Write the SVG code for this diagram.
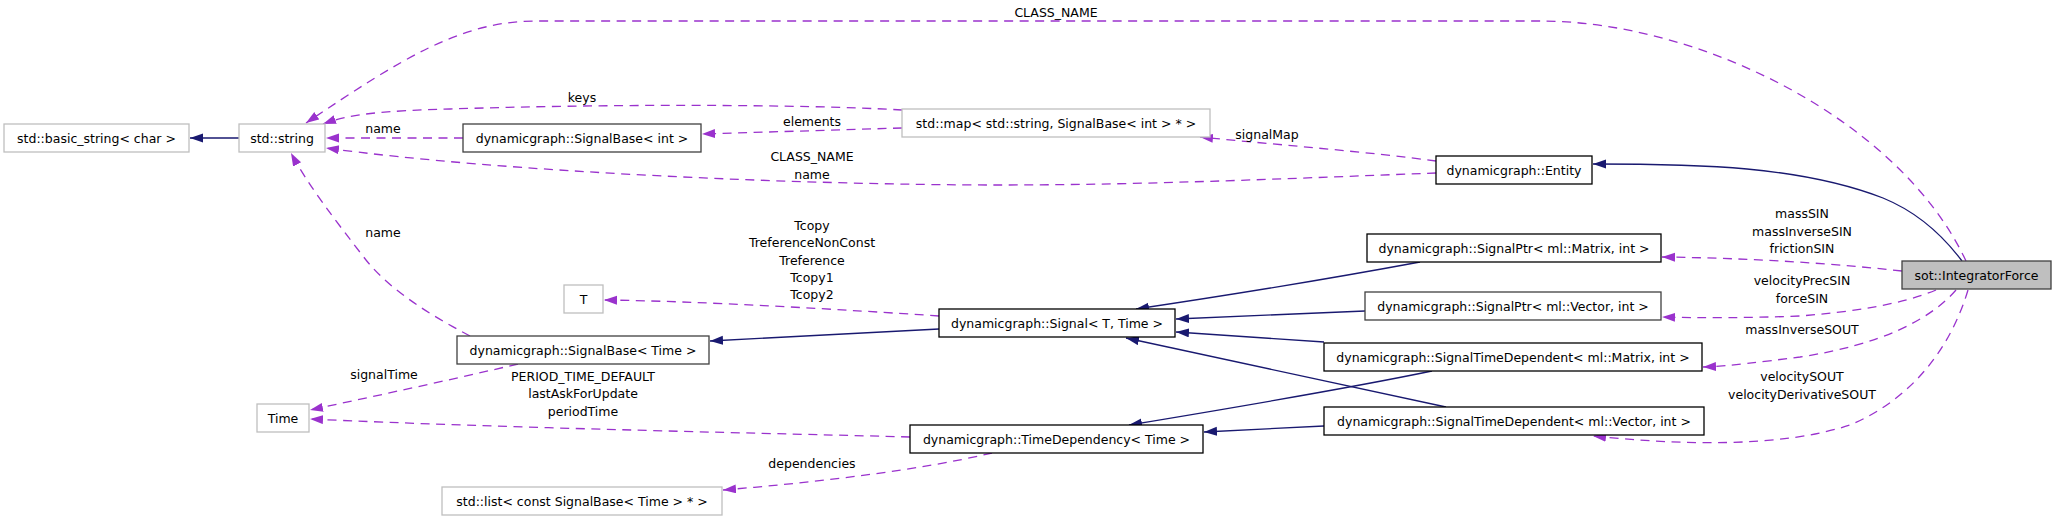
<svg xmlns="http://www.w3.org/2000/svg" width="2056" height="519" viewBox="0 0 2056 519">
<style>
.n rect{fill:#fff;stroke:#000;stroke-width:1.3}
.n rect.g{stroke:#bfbfbf}
.n rect.d{stroke:#404040}
text{font-family:"DejaVu Sans","Liberation Sans",sans-serif;font-size:12.5px;fill:#000;text-anchor:middle}
.inh{fill:none;stroke:#191970;stroke-width:1.3;marker-end:url(#an)}
.use{fill:none;stroke:#9a32cd;stroke-width:1.3;stroke-dasharray:9,6.5;marker-end:url(#ap)}
</style>
<defs>
<marker id="an" markerUnits="userSpaceOnUse" markerWidth="14" markerHeight="10" refX="13" refY="4.5" orient="auto"><path d="M0,0 L13,4.5 L0,9 z" fill="#191970"/></marker>
<marker id="ap" markerUnits="userSpaceOnUse" markerWidth="14" markerHeight="10" refX="13" refY="4.5" orient="auto"><path d="M0,0 L13,4.5 L0,9 z" fill="#9a32cd"/></marker>
</defs>
<rect width="2056" height="519" fill="#fff"/>
<g id="edges">
<path class="inh" d="M239,138 L190,138"/>
<path class="inh" d="M1962,261 C1935,225 1905,207 1883,198 C1800,166 1700,164 1593,164"/>
<path class="use" d="M1966,261 C1900,120 1700,21 1540,21 L536,21 C460,21 400,60 306,123"/>
<text x="1056" y="17">CLASS_NAME</text>
<path class="use" d="M902,110 C800,104 600,104 450,109 C380,111 350,114 323,124"/>
<text x="582" y="102">keys</text>
<path class="use" d="M902,128 L702,134"/>
<text x="812" y="126">elements</text>
<path class="use" d="M463,138 L326,138"/>
<text x="383" y="133">name</text>
<path class="use" d="M1436,173 C1300,178 1150,185 1000,185 C800,185 500,172 326,148"/>
<text x="812" y="161">CLASS_NAME</text>
<text x="812" y="179">name</text>
<path class="use" d="M1436,161 C1370,152 1280,145 1200,137"/>
<text x="1267" y="139">signalMap</text>
<path class="use" d="M470,336 C430,315 390,290 366,260 C335,220 308,185 291,153"/>
<text x="383" y="237">name</text>
<path class="inh" d="M939,329 L710,341"/>
<path class="use" d="M939,316 C850,310 700,301 604,300"/>
<text x="812" y="230">Tcopy</text>
<text x="812" y="247">TreferenceNonConst</text>
<text x="812" y="265">Treference</text>
<text x="812" y="282">Tcopy1</text>
<text x="812" y="299">Tcopy2</text>
<path class="inh" d="M1420,262 C1350,275 1250,292 1136,309"/>
<path class="inh" d="M1365,311 L1176,319"/>
<path class="inh" d="M1324,342 L1176,332"/>
<path class="inh" d="M1432,371 C1350,388 1250,405 1129,425"/>
<path class="inh" d="M1446,407 L1126,338"/>
<path class="inh" d="M1324,426 L1204,432"/>
<path class="use" d="M910,437 C800,434 500,428 310,419"/>
<text x="583" y="381">PERIOD_TIME_DEFAULT</text>
<text x="583" y="398">lastAskForUpdate</text>
<text x="583" y="416">periodTime</text>
<path class="use" d="M518,364 C450,380 380,395 310,410"/>
<text x="384" y="379">signalTime</text>
<path class="use" d="M992,453 C920,470 820,482 723,490"/>
<text x="812" y="468">dependencies</text>
<path class="use" d="M1902,271 C1820,262 1740,258 1662,257"/>
<text x="1802" y="218">massSIN</text>
<text x="1802" y="236">massInverseSIN</text>
<text x="1802" y="253">frictionSIN</text>
<path class="use" d="M1936,290 C1900,305 1850,312 1800,316 C1750,318 1700,318 1662,317"/>
<text x="1802" y="285">velocityPrecSIN</text>
<text x="1802" y="303">forceSIN</text>
<path class="use" d="M1956,290 C1930,320 1880,345 1800,357 C1760,362 1730,366 1703,367"/>
<text x="1802" y="334">massInverseSOUT</text>
<path class="use" d="M1968,290 C1950,350 1910,400 1850,425 C1780,448 1680,445 1593,436"/>
<text x="1802" y="381">velocitySOUT</text>
<text x="1802" y="399">velocityDerivativeSOUT</text>
</g>
<g id="n_basic_string" class="n"><rect class="g" x="4" y="124" width="185" height="28"/><text x="96.5" y="142.5">std::basic_string&lt; char &gt;</text></g>
<g id="n_string" class="n"><rect class="g" x="239" y="124" width="86" height="28"/><text x="282" y="142.5">std::string</text></g>
<g id="n_signalbase_int" class="n"><rect class="d" x="463" y="124" width="238" height="28"/><text x="582" y="142.5">dynamicgraph::SignalBase&lt; int &gt;</text></g>
<g id="n_map" class="n"><rect class="g" x="902" y="109" width="308" height="28"/><text x="1056" y="127.5">std::map&lt; std::string, SignalBase&lt; int &gt; * &gt;</text></g>
<g id="n_entity" class="n"><rect x="1436" y="156" width="156" height="28"/><text x="1514" y="174.5">dynamicgraph::Entity</text></g>
<g id="n_integratorforce" class="n"><rect class="d" x="1902" y="261" width="149" height="28" style="fill:#bfbfbf"/><text x="1976.5" y="279.5">sot::IntegratorForce</text></g>
<g id="n_signalptr_matrix" class="n"><rect x="1367" y="234" width="294" height="28"/><text x="1514" y="252.5">dynamicgraph::SignalPtr&lt; ml::Matrix, int &gt;</text></g>
<g id="n_signalptr_vector" class="n"><rect class="d" x="1365" y="292" width="296" height="28"/><text x="1513" y="310.5">dynamicgraph::SignalPtr&lt; ml::Vector, int &gt;</text></g>
<g id="n_std_matrix" class="n"><rect x="1324" y="343" width="378" height="28"/><text x="1513" y="361.5">dynamicgraph::SignalTimeDependent&lt; ml::Matrix, int &gt;</text></g>
<g id="n_std_vector" class="n"><rect x="1324" y="407" width="380" height="28"/><text x="1514" y="425.5">dynamicgraph::SignalTimeDependent&lt; ml::Vector, int &gt;</text></g>
<g id="n_signal" class="n"><rect x="939" y="309" width="236" height="28"/><text x="1057" y="327.5">dynamicgraph::Signal&lt; T, Time &gt;</text></g>
<g id="n_timedependency" class="n"><rect x="910" y="425" width="293" height="28"/><text x="1056.5" y="443.5">dynamicgraph::TimeDependency&lt; Time &gt;</text></g>
<g id="n_list" class="n"><rect class="g" x="442" y="487" width="280" height="28"/><text x="582" y="505.5">std::list&lt; const SignalBase&lt; Time &gt; * &gt;</text></g>
<g id="n_time" class="n"><rect class="g" x="257" y="404" width="52" height="28"/><text x="283" y="422.5">Time</text></g>
<g id="n_t" class="n"><rect class="g" x="564" y="285" width="39" height="28"/><text x="583.5" y="303.5">T</text></g>
<g id="n_signalbase_time" class="n"><rect class="d" x="457" y="336" width="252" height="28"/><text x="583" y="354.5">dynamicgraph::SignalBase&lt; Time &gt;</text></g>
</svg>
